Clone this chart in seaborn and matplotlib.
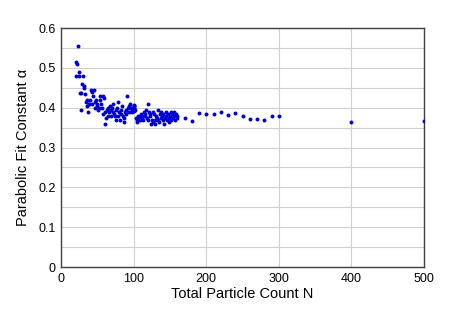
import numpy as np
import pandas as pd
import seaborn as sns
import matplotlib.pyplot as plt

# -------------------------------
# Data
# -------------------------------
n_dense = list(range(20, 161))
alpha_dense = [
    0.480, 0.515, 0.510, 0.555, 0.490, 0.480, 0.437, 0.395, 0.437, 0.460,
    0.480, 0.455, 0.450, 0.435, 0.415, 0.405, 0.420, 0.390, 0.410, 0.410,
    0.420, 0.445, 0.440, 0.410, 0.430, 0.445, 0.400, 0.415, 0.420, 0.405,
    0.410, 0.395, 0.400, 0.420, 0.430, 0.410, 0.400, 0.385, 0.430, 0.425,
    0.390, 0.360, 0.375, 0.395, 0.380, 0.400, 0.390, 0.405, 0.380, 0.395,
    0.400, 0.410, 0.390, 0.385, 0.380, 0.370, 0.395, 0.400, 0.415, 0.380,
    0.390, 0.370, 0.385, 0.395, 0.405, 0.380, 0.365, 0.375, 0.390, 0.385,
    0.395, 0.430, 0.400, 0.390, 0.405, 0.410, 0.400, 0.395, 0.390, 0.400,
    0.400, 0.405, 0.395, 0.375, 0.370, 0.365, 0.380, 0.375, 0.370, 0.380,
    0.385, 0.380, 0.375, 0.370, 0.390, 0.385, 0.380, 0.395, 0.375, 0.370,
    0.410, 0.390, 0.385, 0.380, 0.360, 0.370, 0.365, 0.390, 0.385, 0.370,
    0.360, 0.380, 0.375, 0.395, 0.370, 0.365, 0.385, 0.390, 0.375, 0.380,
    0.370, 0.385, 0.360, 0.375, 0.390, 0.380, 0.370, 0.385, 0.365, 0.375,
    0.380, 0.390, 0.370, 0.385, 0.375, 0.390, 0.380, 0.370, 0.385, 0.375,
    0.380,
]
# repeated runs at N = 100 (the blob)
n_repeat = [100, 100, 100, 100, 100]
alpha_repeat = [0.398, 0.404, 0.392, 0.408, 0.396]

n_sparse = [170, 180, 190, 200, 210, 220, 230, 240, 250, 260, 270, 280, 290, 300, 400, 500]
alpha_sparse = [0.375, 0.367, 0.388, 0.384, 0.384, 0.390, 0.383, 0.386,
                0.379, 0.373, 0.371, 0.370, 0.380, 0.380, 0.364, 0.366]

df = pd.DataFrame({
    "N": n_dense + n_repeat + n_sparse,
    "alpha": alpha_dense + alpha_repeat + alpha_sparse,
})

# -------------------------------
# Plot
# -------------------------------
sns.set_style("white")
plt.rcParams["font.family"] = ["Liberation Sans", "DejaVu Sans"]
plt.rcParams["text.color"] = "black"
plt.rcParams["axes.labelcolor"] = "black"
plt.rcParams["xtick.color"] = "black"
plt.rcParams["ytick.color"] = "black"

fig = plt.figure(figsize=(4.53, 3.16), dpi=100)
ax = fig.add_axes([0.135, 0.155, 0.801, 0.756])

sns.scatterplot(data=df, x="N", y="alpha", ax=ax, color="#0000d0",
                s=8, linewidth=0, zorder=3)

ax.set_xlim(0, 500)
ax.set_ylim(0, 0.6)
ax.set_xticks(np.arange(0, 501, 100))
ax.set_yticks(np.arange(0, 0.61, 0.1))
ax.set_yticklabels(["0", "0.1", "0.2", "0.3", "0.4", "0.5", "0.6"])
ax.set_yticks(np.arange(0.05, 0.6, 0.1), minor=True)
ax.grid(True, which="both", axis="y", color="#d0d0d0", linewidth=0.8)
ax.grid(True, which="major", axis="x", color="#d0d0d0", linewidth=0.8)
ax.tick_params(axis="both", which="both", length=0, labelsize=9, pad=4)

for sp in ax.spines.values():
    sp.set_color("#404040")
    sp.set_linewidth(1.0)

ax.set_xlabel("Total Particle Count N", fontsize=10.5, labelpad=2)
ax.set_ylabel("Parabolic Fit Constant \u03b1", fontsize=10.5, labelpad=6)

fig.savefig("out.png", dpi=100)
